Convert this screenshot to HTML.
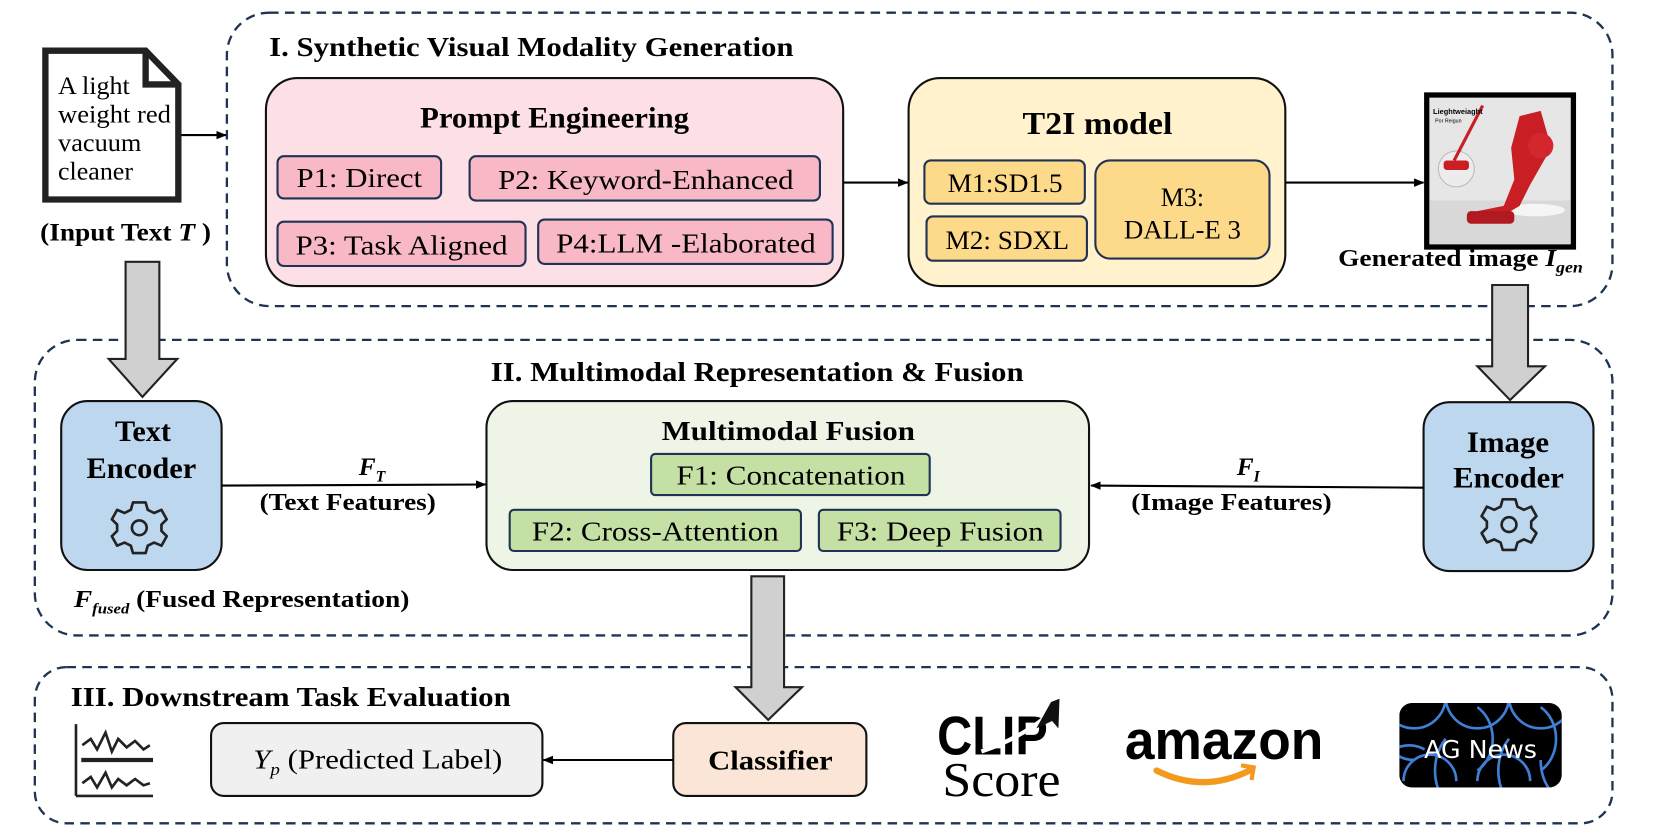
<!DOCTYPE html>
<html><head><meta charset="utf-8"><style>
html,body{margin:0;padding:0;background:#fff;}
svg{display:block;}
text{font-family:"Liberation Serif",serif;fill:#000;}
.b{font-weight:bold;}
</style></head><body>
<svg width="1661" height="836" viewBox="0 0 1574 792" preserveAspectRatio="none" xmlns="http://www.w3.org/2000/svg">
<defs>
<marker id="ah" markerWidth="10" markerHeight="10" refX="9" refY="5" orient="auto" markerUnits="userSpaceOnUse"><path d="M0,1 L10,5 L0,9 z" fill="#000"/></marker>
<g id="gear"><path d="M-6,-24 L6,-24 L8,-17 L14,-14 L21,-17 L26,-8 L21,-3 L21,3 L26,8 L21,17 L14,14 L8,17 L6,24 L-6,24 L-8,17 L-14,14 L-21,17 L-26,8 L-21,3 L-21,-3 L-26,-8 L-21,-17 L-14,-14 L-8,-17 Z" fill="none" stroke="#222" stroke-width="2.5" stroke-linejoin="round"/><circle r="7" fill="none" stroke="#222" stroke-width="2.5"/></g>
</defs>

<rect x="215" y="12" width="1313" height="278" rx="40" fill="none" stroke="#1f3354" stroke-width="2.2" stroke-dasharray="9,6"/>
<rect x="33" y="322" width="1495" height="280" rx="40" fill="none" stroke="#1f3354" stroke-width="2.2" stroke-dasharray="9,6"/>
<rect x="33" y="632" width="1495" height="148" rx="30" fill="none" stroke="#1f3354" stroke-width="2.2" stroke-dasharray="9,6"/>

<text x="255" y="53" class="b" font-size="26" textLength="497" lengthAdjust="spacingAndGlyphs">I. Synthetic Visual Modality Generation</text>
<text x="465" y="361" class="b" font-size="26" textLength="505" lengthAdjust="spacingAndGlyphs">II. Multimodal Representation &amp; Fusion</text>
<text x="67" y="669" class="b" font-size="26" textLength="417" lengthAdjust="spacingAndGlyphs">III. Downstream Task Evaluation</text>

<path d="M43,48 L138,48 L169,80 L169,189 L43,189 Z" fill="#fff" stroke="#222" stroke-width="6"/>
<path d="M138,48 L138,80 L169,80" fill="none" stroke="#222" stroke-width="6"/>
<g font-size="24">
<text x="55" y="89" textLength="68" lengthAdjust="spacingAndGlyphs">A light</text>
<text x="55" y="116" textLength="107" lengthAdjust="spacingAndGlyphs">weight red</text>
<text x="55" y="143" textLength="79" lengthAdjust="spacingAndGlyphs">vacuum</text>
<text x="55" y="170" textLength="71" lengthAdjust="spacingAndGlyphs">cleaner</text>
</g>
<line x1="172" y1="128" x2="214" y2="128" stroke="#000" stroke-width="2" marker-end="url(#ah)"/>
<text x="38" y="228" class="b" font-size="24" textLength="162" lengthAdjust="spacingAndGlyphs">(Input Text <tspan font-style="italic">T</tspan> )</text>

<rect x="252" y="74" width="547" height="197" rx="30" fill="#fde0e6" stroke="#111" stroke-width="2"/>
<text x="398" y="121" class="b" font-size="28" textLength="255" lengthAdjust="spacingAndGlyphs">Prompt Engineering</text>
<g fill="#f9b8c6" stroke="#1f3354" stroke-width="2">
<rect x="263" y="148" width="155" height="40" rx="6"/>
<rect x="445" y="148" width="332" height="42" rx="6"/>
<rect x="263" y="210" width="235" height="42" rx="6"/>
<rect x="510" y="208" width="279" height="42" rx="6"/>
</g>
<g font-size="26">
<text x="281" y="177" textLength="119" lengthAdjust="spacingAndGlyphs">P1: Direct</text>
<text x="472" y="179" textLength="280" lengthAdjust="spacingAndGlyphs">P2: Keyword-Enhanced</text>
<text x="280" y="241" textLength="201" lengthAdjust="spacingAndGlyphs">P3: Task Aligned</text>
<text x="527" y="239" textLength="246" lengthAdjust="spacingAndGlyphs">P4:LLM -Elaborated</text>
</g>
<line x1="799" y1="173" x2="860" y2="173" stroke="#000" stroke-width="2" marker-end="url(#ah)"/>

<rect x="861" y="74" width="357" height="197" rx="30" fill="#fff2cc" stroke="#111" stroke-width="2"/>
<text x="969" y="127" class="b" font-size="30" textLength="142" lengthAdjust="spacingAndGlyphs">T2I model</text>
<g fill="#fdd98a" stroke="#1f3354" stroke-width="2">
<rect x="876" y="152" width="152" height="41" rx="6"/>
<rect x="878" y="205" width="152" height="42" rx="6"/>
<rect x="1038" y="152" width="165" height="93" rx="14"/>
</g>
<g font-size="25">
<text x="898" y="182" textLength="109" lengthAdjust="spacingAndGlyphs">M1:SD1.5</text>
<text x="896" y="236" textLength="117" lengthAdjust="spacingAndGlyphs">M2: SDXL</text>
<text x="1100" y="195" textLength="41" lengthAdjust="spacingAndGlyphs">M3:</text>
<text x="1065" y="226" textLength="111" lengthAdjust="spacingAndGlyphs">DALL-E 3</text>
</g>
<line x1="1218" y1="173" x2="1349" y2="173" stroke="#000" stroke-width="2" marker-end="url(#ah)"/>

<rect x="1352" y="90" width="139" height="144" fill="#e6e6e6" stroke="#000" stroke-width="5"/>
<rect x="1355" y="190" width="133" height="41" fill="#d8d8d8"/>
<ellipse cx="1455" cy="199" rx="28" ry="6" fill="#f5f5f5"/>
<circle cx="1380" cy="160" r="17" fill="#ececec" stroke="#bbb"/>
<line x1="1378" y1="152" x2="1405" y2="100" stroke="#c81e24" stroke-width="3"/>
<rect x="1368" y="152" width="24" height="9" rx="3" fill="#c81e24"/>
<path d="M1440,110 L1460,105 L1470,140 L1450,175 L1440,195 L1415,210 L1395,205 L1400,200 L1425,195 L1435,170 L1432,140 Z" fill="#c81e24"/>
<rect x="1390" y="200" width="45" height="12" rx="4" fill="#b01a20"/>
<circle cx="1460" cy="138" r="12" fill="#d4272d"/>
<text x="1358" y="108" font-size="7" font-weight="bold" style="font-family:'Liberation Sans',sans-serif">Lieghtweiaght</text>
<text x="1360" y="116" font-size="5" fill="#555" style="font-family:'Liberation Sans',sans-serif">Por Reigun</text>
<text x="1268" y="252" class="b" font-size="23" textLength="232" lengthAdjust="spacingAndGlyphs">Generated image <tspan font-style="italic">I</tspan><tspan font-style="italic" font-size="15" dy="6">gen</tspan></text>

<path d="M119,248 L151,248 L151,340 L168,340 L135,376 L103,340 L119,340 Z" fill="#d0d0d0" stroke="#222" stroke-width="2"/>
<path d="M1414,270 L1448,270 L1448,347 L1464,347 L1431,379 L1400,347 L1414,347 Z" fill="#d0d0d0" stroke="#222" stroke-width="2"/>
<path d="M712,546 L743,546 L743,651 L760,651 L728,682 L697,651 L712,651 Z" fill="#d0d0d0" stroke="#222" stroke-width="2"/>

<rect x="58" y="380" width="152" height="160" rx="25" fill="#bdd7ee" stroke="#111" stroke-width="2"/>
<text x="109" y="418" class="b" font-size="28" textLength="53" lengthAdjust="spacingAndGlyphs">Text</text>
<text x="82" y="453" class="b" font-size="28" textLength="104" lengthAdjust="spacingAndGlyphs">Encoder</text>
<use href="#gear" x="132" y="500"/>
<rect x="1349" y="381" width="161" height="160" rx="25" fill="#bdd7ee" stroke="#111" stroke-width="2"/>
<text x="1390" y="428" class="b" font-size="28" textLength="78" lengthAdjust="spacingAndGlyphs">Image</text>
<text x="1377" y="462" class="b" font-size="28" textLength="105" lengthAdjust="spacingAndGlyphs">Encoder</text>
<use href="#gear" x="1430" y="497"/>

<rect x="461" y="380" width="571" height="160" rx="25" fill="#eef5e6" stroke="#111" stroke-width="2"/>
<text x="627" y="417" class="b" font-size="26" textLength="240" lengthAdjust="spacingAndGlyphs">Multimodal Fusion</text>
<g fill="#c5e0a5" stroke="#1f3354" stroke-width="2">
<rect x="617" y="430" width="264" height="39" rx="4"/>
<rect x="483" y="483" width="276" height="39" rx="4"/>
<rect x="776" y="483" width="229" height="39" rx="4"/>
</g>
<g font-size="26">
<text x="641" y="459" textLength="217" lengthAdjust="spacingAndGlyphs">F1: Concatenation</text>
<text x="504" y="512" textLength="234" lengthAdjust="spacingAndGlyphs">F2: Cross-Attention</text>
<text x="793" y="512" textLength="196" lengthAdjust="spacingAndGlyphs">F3: Deep Fusion</text>
</g>
<line x1="210" y1="460" x2="460" y2="459" stroke="#000" stroke-width="2" marker-end="url(#ah)"/>
<text x="340" y="450" class="b" font-size="24" font-style="italic">F<tspan font-size="15" dy="6">T</tspan></text>
<text x="246" y="483" class="b" font-size="23" textLength="167" lengthAdjust="spacingAndGlyphs">(Text Features)</text>
<line x1="1349" y1="462" x2="1034" y2="460" stroke="#000" stroke-width="2" marker-end="url(#ah)"/>
<text x="1172" y="450" class="b" font-size="24" font-style="italic">F<tspan font-size="15" dy="6">I</tspan></text>
<text x="1072" y="483" class="b" font-size="23" textLength="190" lengthAdjust="spacingAndGlyphs">(Image Features)</text>
<text x="70" y="575" class="b" font-size="23" textLength="318" lengthAdjust="spacingAndGlyphs"><tspan font-style="italic">F</tspan><tspan font-style="italic" font-size="14" dy="6">fused</tspan><tspan dy="-6"> (Fused Representation)</tspan></text>

<g stroke="#222" stroke-width="2.5" fill="none">
<line x1="72" y1="686" x2="72" y2="754"/>
<line x1="72" y1="754" x2="145" y2="754"/>
<line x1="77" y1="720" x2="145" y2="720" stroke-width="4"/>
<polyline points="78,706 86,700 92,710 100,694 106,712 112,700 120,708 128,702 136,710 142,706"/>
<polyline points="78,742 86,736 92,746 100,732 106,746 112,738 120,744 128,738 136,744 142,742"/>
</g>
<rect x="200" y="685" width="314" height="69" rx="12" fill="#f0f0f0" stroke="#111" stroke-width="2"/>
<text x="240" y="728" font-size="26" textLength="236" lengthAdjust="spacingAndGlyphs"><tspan font-style="italic">Y</tspan><tspan font-style="italic" font-size="16" dy="6">p</tspan><tspan dy="-6"> (Predicted Label)</tspan></text>
<rect x="638" y="685" width="183" height="69" rx="12" fill="#fae5d6" stroke="#111" stroke-width="2"/>
<text x="671" y="729" class="b" font-size="26" textLength="118" lengthAdjust="spacingAndGlyphs">Classifier</text>
<line x1="638" y1="720" x2="515" y2="720" stroke="#000" stroke-width="2" marker-end="url(#ah)"/>

<text x="888" y="715" font-size="52" font-weight="bold" style="font-family:'Liberation Sans',sans-serif" textLength="105" lengthAdjust="spacingAndGlyphs">CLIP</text>
<path d="M930,712 Q965,700 990,680" stroke="#fff" stroke-width="4" fill="none"/>
<path d="M982,690 L996,665 L1004,662 L1003,690 L997,683 Z" fill="#111"/>
<text x="893" y="754" font-size="46" textLength="112" lengthAdjust="spacingAndGlyphs">Score</text>
<text x="1066" y="719" font-size="52" font-weight="bold" style="font-family:'Liberation Sans',sans-serif" textLength="188" lengthAdjust="spacingAndGlyphs">amazon</text>
<path d="M1096,730 Q1140,752 1184,730" stroke="#f39a1e" stroke-width="6" fill="none" stroke-linecap="round"/>
<path d="M1176,725 L1188,727 L1186,739" stroke="#f39a1e" stroke-width="4" fill="none"/>
<clipPath id="agc"><rect x="1326" y="666" width="154" height="80" rx="12"/></clipPath>
<g clip-path="url(#agc)">
<rect x="1326" y="666" width="154" height="80" fill="#000"/>
<g stroke="#3f7fd6" stroke-width="2.5" fill="none">
<path d="M1310,660 A30,30 0 0 0 1370,660 A30,30 0 0 0 1430,660 A30,30 0 0 0 1490,660"/>
<path d="M1340,660 A30,30 0 0 0 1340,720 M1400,670 A30,35 0 0 1 1400,730 M1460,670 A30,35 0 0 1 1460,730"/>
<path d="M1310,720 A30,30 0 0 1 1350,710 M1370,700 A30,40 0 0 0 1370,760 M1430,700 A30,40 0 0 0 1430,760 M1460,720 A30,40 0 0 0 1490,760"/>
<path d="M1330,740 A25,25 0 0 1 1380,740 M1400,740 A25,25 0 0 1 1450,740"/>
</g>
<text x="1403" y="718" font-size="24" text-anchor="middle" style="font-family:'DejaVu Sans',sans-serif;fill:#fff">AG News</text>
</g>
</svg>
</body></html>
